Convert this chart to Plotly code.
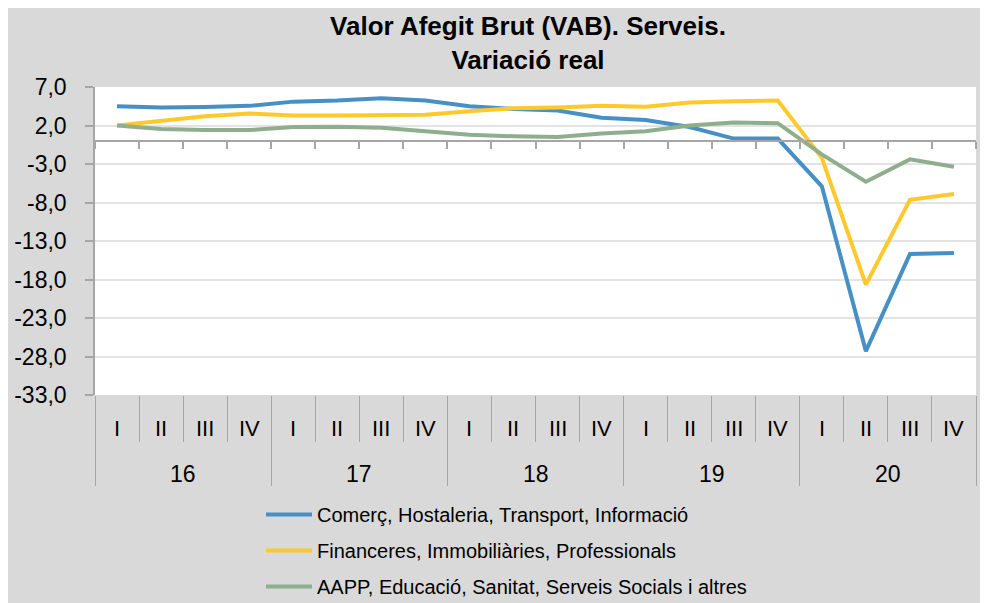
import plotly.graph_objects as go

# ---------------- data ----------------
years = ["16", "17", "18", "19", "20"]
quarters = ["I", "II", "III", "IV"]

comerc = [4.5, 4.35, 4.4, 4.55, 5.1, 5.25, 5.55, 5.25, 4.5, 4.15,
          3.95, 3.0, 2.7, 1.8, 0.3, 0.3, -5.9, -27.3, -14.7, -14.55]
financeres = [2.0, 2.6, 3.2, 3.55, 3.3, 3.3, 3.3, 3.4, 3.85, 4.25,
              4.35, 4.55, 4.45, 5.0, 5.15, 5.25, -2.2, -18.65, -7.65, -6.9]
aapp = [2.0, 1.55, 1.4, 1.4, 1.8, 1.85, 1.7, 1.25, 0.8, 0.6,
        0.5, 0.95, 1.25, 2.0, 2.4, 2.3, -1.75, -5.3, -2.4, -3.35]

series_names = ["Comerç, Hostaleria, Transport, Informació",
                "Financeres, Immobiliàries, Professionals",
                "AAPP, Educació, Sanitat, Serveis Socials i altres"]
series_colors = ["#4690c6", "#ffc92c", "#8fae8d"]

ytick_vals = [7, 2, -3, -8, -13, -18, -23, -28, -33]
ytick_text = ["7,0", "2,0", "-3,0", "-8,0", "-13,0", "-18,0", "-23,0", "-28,0", "-33,0"]

title_text = "<b>Valor Afegit Brut (VAB). Serveis.<br>Variació real</b>"

# ---------------- build ----------------
W, H = 980, 595
ML, MR, MT, MB = 87, 12, 79, 208
n = len(years) * len(quarters)
xpos = list(range(n))
boundaries = [i - 0.5 for i in range(n + 1)]
year_bounds = [i * len(quarters) - 0.5 for i in range(len(years) + 1)]

FONT = "Liberation Sans, Arial, sans-serif"
GRID = "#e3e3e3"
AXC = "#a6a6a6"

fig = go.Figure()
for name, vals, col in zip(series_names, [comerc, financeres, aapp], series_colors):
    fig.add_trace(go.Scatter(x=xpos, y=vals, mode="lines", name=name,
                             legendgroup=name,
                             line=dict(color=col, width=4)))

# phantom traces for extra axes
fig.add_trace(go.Scatter(x=[0], y=[None], xaxis="x2", showlegend=False, hoverinfo="skip"))
fig.add_trace(go.Scatter(x=[0], y=[None], xaxis="x3", showlegend=False, hoverinfo="skip"))

ann = []
for i in xpos:
    ann.append(dict(x=i, xref="x", y=-0.11, yref="paper", yanchor="middle",
                    text=quarters[i % len(quarters)], showarrow=False,
                    font=dict(family=FONT, size=22, color="#000")))
for k, yr in enumerate(years):
    ann.append(dict(x=k * len(quarters) + (len(quarters) - 1) / 2, xref="x",
                    y=-0.255, yref="paper", yanchor="middle",
                    text=yr, showarrow=False,
                    font=dict(family=FONT, size=23, color="#000")))

plot_w = W - ML - MR

fig.update_layout(
    template="none",
    width=W, height=H,
    margin=dict(l=ML, r=MR, t=MT, b=MB, autoexpand=False),
    paper_bgcolor="#d9d9d9",
    plot_bgcolor="#ffffff",
    font=dict(family=FONT, color="#000"),
    title=dict(text=title_text, x=520 / W, xanchor="center",
               xref="container", y=1 - 27 / H, yanchor="middle", yref="container",
               font=dict(family=FONT, size=26, color="#000")),
    showlegend=True,
    legend=dict(orientation="v", x=(253 - ML) / plot_w, xanchor="left", xref="paper",
                y=1 - 487 / H, yanchor="top", yref="container",
                bgcolor="rgba(0,0,0,0)", borderwidth=0,
                font=dict(family=FONT, size=20, color="#000"),
                tracegroupgap=7, itemwidth=46),
    xaxis=dict(range=[-0.5, n - 0.5], showgrid=False, zeroline=False, automargin=False,
               showticklabels=False, showline=False,
               tickmode="array", tickvals=boundaries, ticks="outside",
               ticklen=46, tickwidth=1, tickcolor=AXC),
    xaxis2=dict(range=[-0.5, n - 0.5], overlaying="x", anchor="free", position=33 / 40,
                showgrid=False, zeroline=False, showticklabels=False, automargin=False,
                showline=True, linecolor=AXC, linewidth=2,
                tickmode="array", tickvals=boundaries, ticks="outside",
                ticklen=7, tickwidth=1.5, tickcolor=AXC),
    xaxis3=dict(range=[-0.5, n - 0.5], overlaying="x", anchor="y", side="bottom",
                showgrid=False, zeroline=False, showticklabels=False, showline=False,
                automargin=False,
                tickmode="array", tickvals=year_bounds, ticks="outside",
                ticklen=90, tickwidth=1, tickcolor=AXC),
    yaxis=dict(range=[-33, 7], tickmode="array", tickvals=ytick_vals, ticktext=ytick_text,
               showgrid=True, gridcolor=GRID, gridwidth=2, zeroline=False, automargin=False,
               showline=True, linecolor=AXC, linewidth=1.5,
               ticks="outside", ticklen=8, tickcolor=AXC, tickwidth=1.5,
               tickfont=dict(family=FONT, size=23, color="#000"), ticklabelstandoff=14),
    annotations=ann,
)

fig.write_html("out.html")
